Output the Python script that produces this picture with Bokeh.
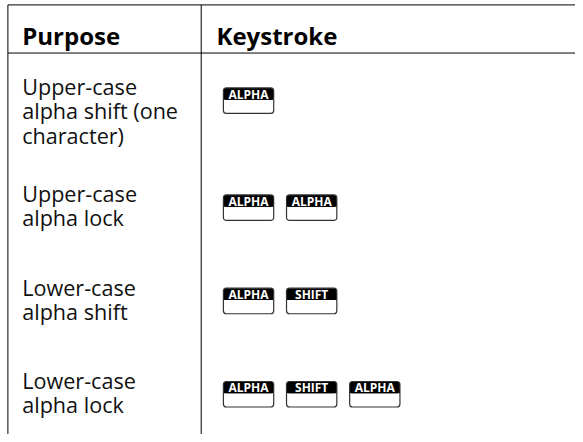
from bokeh.plotting import figure
from bokeh.models import Range1d
from bokeh.core.properties import value
from bokeh.embed import file_html
from bokeh.resources import INLINE

# ---- data ----
header_labels = ["Purpose", "Keystroke"]
purposes = [
    ["Upper-case", "alpha shift (one", "character)"],
    ["Upper-case", "alpha lock"],
    ["Lower-case", "alpha shift"],
    ["Lower-case", "alpha lock"],
]
keystrokes = [
    ["ALPHA"],
    ["ALPHA", "ALPHA"],
    ["ALPHA", "SHIFT"],
    ["ALPHA", "SHIFT", "ALPHA"],
]

# ---- layout (reference-picture coordinates) ----
W, H = 575, 434
REF_W, REF_H = 583, 442
row_baselines = [88, 197, 292, 387]
line_gap = 24.5
col1_x = 22
col2_x = 219
left_x = 7.5
divider_x = 203.5
top_y = 4.5
header_line_y = 53.5
header_baseline = 36
key_x0 = 226
key_w = 51
key_pitch = 64
key_h = 26
key_black = 12

p = figure(width=W, height=H, output_backend="svg", toolbar_location=None,
           x_range=Range1d(0, REF_W), y_range=Range1d(REF_H, 0),
           x_axis_type=None, y_axis_type=None, min_border=0,
           outline_line_color=None, background_fill_color="white")
p.grid.visible = False

# table rules
p.segment(x0=[left_x, left_x, left_x, divider_x],
          y0=[top_y, header_line_y, top_y, top_y],
          x1=[REF_W, REF_W, left_x, divider_x],
          y1=[top_y, header_line_y, REF_H, REF_H],
          line_color="black", line_width=1)

# header
p.text(x=[col1_x, col2_x], y=[header_baseline, header_baseline], text=header_labels,
       text_font=value("Open Sans"), text_font_style="bold", text_font_size="24px",
       text_color="black", text_baseline="alphabetic", text_align="left")

# purpose texts
tx, ty, tt = [], [], []
for r, lines in enumerate(purposes):
    for i, s in enumerate(lines):
        tx.append(col1_x)
        ty.append(row_baselines[r] + i * line_gap)
        tt.append(s)
p.text(x=tx, y=ty, text=tt, text_font=value("Open Sans"), text_font_size="21.6px",
       text_color="#111111", text_baseline="alphabetic", text_align="left")

# keys
L, R, T, B = [], [], [], []
lx, ly, lt = [], [], []
for r, keys in enumerate(keystrokes):
    top = row_baselines[r] + 1
    for k, name in enumerate(keys):
        x0 = key_x0 + k * key_pitch
        L.append(x0); R.append(x0 + key_w); T.append(top); B.append(top + key_h)
        lx.append(x0 + key_w / 2); ly.append(top + key_black / 2 + 0.5); lt.append(name)

Bk = [t + key_black for t in T]
Mid = [t + key_black / 2 for t in T]
# white body
p.quad(left=L, right=R, top=T, bottom=B, fill_color="white", line_color=None,
       border_radius=3)
# black cap (rounded top) + square lower half
p.quad(left=L, right=R, top=T, bottom=Bk, fill_color="black", line_color=None,
       border_radius=3)
p.quad(left=L, right=R, top=Mid, bottom=Bk, fill_color="black", line_color=None)
# outline
p.quad(left=L, right=R, top=T, bottom=B, fill_color=None, line_color="#333333",
       line_width=1.2, border_radius=3)
p.text(x=lx, y=ly, text=lt, text_font=value("Open Sans"), text_font_style="bold",
       text_font_size="12px", text_color="white", text_baseline="middle",
       text_align="center")

open("out.html", "w").write(file_html(p, INLINE))
